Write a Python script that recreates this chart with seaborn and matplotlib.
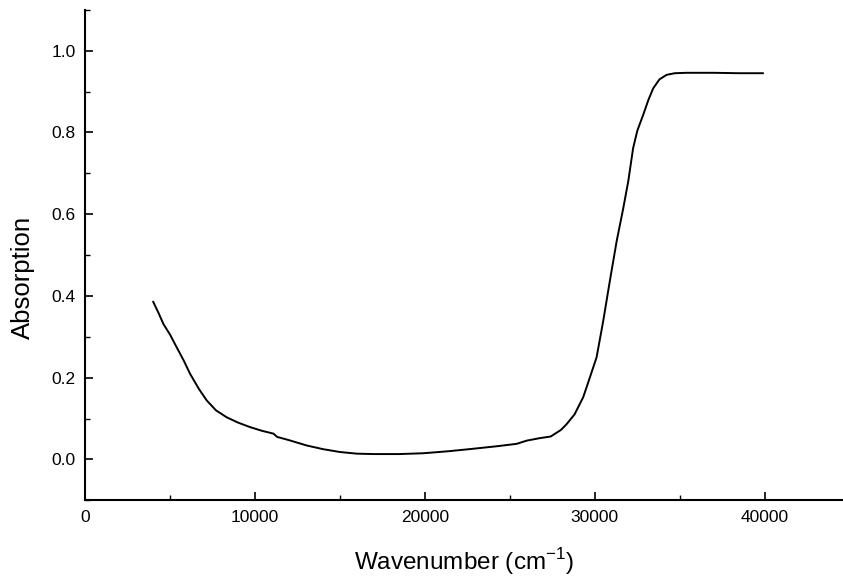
import matplotlib
matplotlib.use("Agg")
import matplotlib.pyplot as plt
import seaborn as sns
import numpy as np
from matplotlib.ticker import MultipleLocator

wavenumber = [4000, 4300, 4610, 5000, 5390, 5800, 6180, 6700, 7160, 7700,
              8330, 9000, 9700, 10400, 11080, 11300, 12000, 13040, 14000, 15000,
              15980, 16960, 18500, 19900, 21400, 22840, 24200, 25390, 26000, 26760,
              27400, 28000, 28330, 28800, 29310, 29700, 30100, 30490, 30880, 31280,
              31670, 31960, 32250, 32500, 32840, 33150, 33430, 33800, 34220, 34700,
              35390, 37000, 38500, 39900]
absorption = [0.386, 0.360, 0.331, 0.305, 0.274, 0.242, 0.209, 0.172, 0.144, 0.120,
              0.103, 0.090, 0.079, 0.070, 0.063, 0.055, 0.047, 0.034, 0.025, 0.018,
              0.014, 0.013, 0.013, 0.015, 0.020, 0.026, 0.032, 0.038, 0.046, 0.052,
              0.056, 0.072, 0.086, 0.110, 0.152, 0.200, 0.250, 0.339, 0.437, 0.534,
              0.615, 0.680, 0.762, 0.805, 0.843, 0.880, 0.908, 0.930, 0.941, 0.945,
              0.946, 0.946, 0.945, 0.945]
x_ticks = [0, 10000, 20000, 30000, 40000]
y_ticks = [0.0, 0.2, 0.4, 0.6, 0.8, 1.0]

sns.set_theme(style="ticks")
plt.rcParams['font.family'] = ['Liberation Sans', 'DejaVu Sans']

fig = plt.figure(figsize=(8.43, 5.81), dpi=100)
ax = fig.add_axes([0.101, 0.139, 0.899, 0.844])

sns.lineplot(x=wavenumber, y=absorption, color="black", linewidth=1.4,
             estimator=None, ax=ax)

ax.set_xlim(0, 44600)
ax.set_ylim(-0.1, 1.1)
ax.set_xticks(x_ticks)
ax.set_yticks(y_ticks)
ax.set_xticklabels([str(t) for t in x_ticks])
ax.set_yticklabels([f"{t:.1f}" for t in y_ticks])
ax.xaxis.set_minor_locator(MultipleLocator(5000))
ax.yaxis.set_minor_locator(MultipleLocator(0.1))
ax.tick_params(which="major", direction="in", length=6, width=1.2,
               labelsize=12.5, colors="black", pad=7)
ax.tick_params(which="minor", direction="in", length=3.5, width=1.0, colors="black")

for s in ["top", "right"]:
    ax.spines[s].set_visible(False)
for s in ["left", "bottom"]:
    ax.spines[s].set_linewidth(1.5)
    ax.spines[s].set_color("black")

ax.set_xlabel(r"Wavenumber (cm$^{\mathregular{-1}}$)", fontsize=17.5, color="black")
ax.set_ylabel("Absorption", fontsize=18.5, color="black")
ax.xaxis.set_label_coords(0.5, -0.094)
ax.yaxis.set_label_coords(-0.066, 0.455)

fig.savefig("out.png", dpi=100)
